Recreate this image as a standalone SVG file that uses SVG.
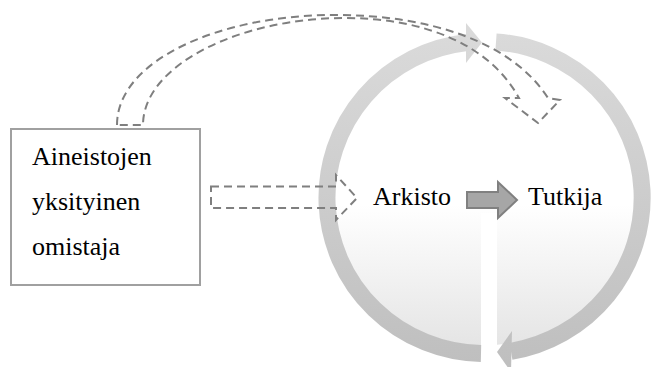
<svg xmlns="http://www.w3.org/2000/svg" width="651" height="367" viewBox="0 0 651 367">
  <defs>
    <linearGradient id="ringGrad" gradientUnits="userSpaceOnUse" x1="0" y1="33" x2="0" y2="362">
      <stop offset="0" stop-color="#dadada"/>
      <stop offset="1" stop-color="#bfbfbf"/>
    </linearGradient>
    <linearGradient id="fillGrad" gradientUnits="userSpaceOnUse" x1="0" y1="205" x2="0" y2="350">
      <stop offset="0" stop-color="#ffffff"/>
      <stop offset="1" stop-color="#e4e4e4"/>
    </linearGradient>
    <style>
      text { font-family: "Liberation Serif", "Times New Roman", serif; font-size: 26px; fill: #000000; }
      .dash { fill: none; stroke: #7f7f7f; stroke-width: 2; stroke-dasharray: 8 5; }
      .ring { fill: none; stroke: url(#ringGrad); stroke-width: 17; }
      .ringHead { fill: url(#ringGrad); }
    </style>
  </defs>
  <rect width="651" height="367" fill="#ffffff"/>

  <g id="cycle">
    <ellipse cx="484.5" cy="197.5" rx="150" ry="148" fill="url(#fillGrad)"/>
    <rect x="481" y="213" width="16" height="154" fill="#ffffff"/>
    <path class="ring" d="M481,353.5 A157.5,156 0 0 1 467,42.5"/>
    <polygon class="ringHead" points="466,23 482,42.5 466,63"/>
    <path class="ring" d="M496,41.9 A157.5,156 0 0 1 511,351.3"/>
    <polygon class="ringHead" points="512,331 497,352 511,372"/>
  </g>

  <g id="owner">
    <rect x="11" y="129" width="189" height="156" fill="#ffffff" stroke="#a0a0a0" stroke-width="2"/>
    <text x="32" y="165">Aineistojen</text>
    <text x="32" y="210">yksityinen</text>
    <text x="32" y="255">omistaja</text>
  </g>

  <g id="arkisto">
    <text x="373" y="205">Arkisto</text>
  </g>

  <g id="tutkija">
    <text x="528" y="205">Tutkija</text>
  </g>

  <g id="connectors">
    <path class="dash" d="M117,125 C117,60 220,15 335,15 C430,15 512,42 548,98 L560,100 L538,123 L505,98 L519,98 C490,45 425,18 345,18 C240,18 143,65 143,125 Z"/>
    <path class="dash" d="M211,186.5 L336,186.5 L336,175 L357,198 L336,220 L336,208 L211,208 Z"/>
    <path d="M467,192 L498,192 L498,182 L517,200 L498,218 L498,208 L467,208 Z" fill="#a6a6a6" stroke="#808080" stroke-width="2" stroke-linejoin="miter"/>
  </g>
</svg>
